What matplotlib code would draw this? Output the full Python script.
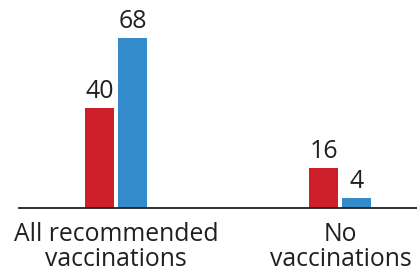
import matplotlib.pyplot as plt
import numpy as np

# values
categories = ["All recommended\nvaccinations", "No\nvaccinations"]
red_values = [40, 16]
blue_values = [68, 4]

red = "#cc1f2a"
blue = "#338bcc"
text_color = "#231f20"

plt.rcParams['font.family'] = ['Open Sans', 'DejaVu Sans']

fig = plt.figure(figsize=(4.17, 2.68), dpi=100)
ax = fig.add_axes([19 / 417, 60 / 268, 398 / 417, 200 / 268])

x = np.arange(len(categories))
width = 0.129
offset = 0.0735

bars_red = ax.bar(x - offset, red_values, width, color=red)
bars_blue = ax.bar(x + offset, blue_values, width, color=blue)

for bars in (bars_red, bars_blue):
    for b in bars:
        ax.text(b.get_x() + b.get_width() / 2, b.get_height() + 1.6, f"{b.get_height():.0f}",
                ha='center', va='bottom', fontsize=18, color=text_color)

ax.set_xlim(-0.432, 1.341)
ax.set_ylim(0, 80)
ax.set_xticks(x)
ax.set_xticklabels(categories, fontsize=17.8, color=text_color, linespacing=0.98)
ax.tick_params(axis='x', length=0, pad=10)
ax.set_yticks([])

for s in ['top', 'right', 'left']:
    ax.spines[s].set_visible(False)
ax.spines['bottom'].set_linewidth(1.3)
ax.spines['bottom'].set_color(text_color)

fig.savefig("out.png", dpi=100)
